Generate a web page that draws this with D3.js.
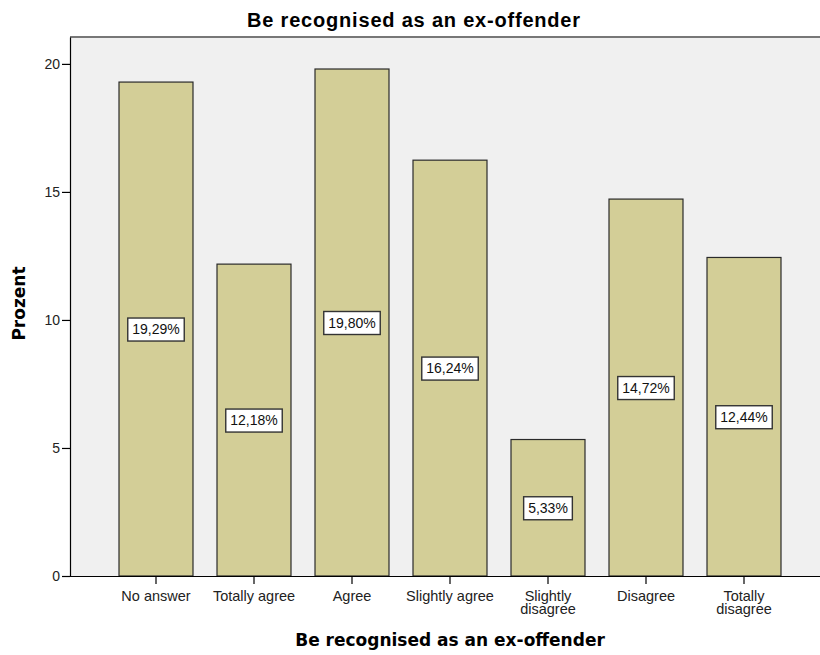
<!DOCTYPE html>
<html><head><meta charset="utf-8">
<script src="https://cdn.jsdelivr.net/npm/d3@7"></script>
<style>body{margin:0;background:#fff}svg{display:block}</style>
</head><body>
<svg id="c" width="820" height="655"></svg>
<script>
const categories = ["No answer","Totally agree","Agree","Slightly agree","Slightly disagree","Disagree","Totally disagree"];
const tickLines = [["No answer"],["Totally agree"],["Agree"],["Slightly agree"],["Slightly","disagree"],["Disagree"],["Totally","disagree"]];
const values = [19.29, 12.18, 19.80, 16.24, 5.33, 14.72, 12.44];
const labels = ["19,29%","12,18%","19,80%","16,24%","5,33%","14,72%","12,44%"];
const yTicks = [0,5,10,15,20];

const svg = d3.select("#c");
const L = 70, T = 37, B = 576, R = 830;
const x = d3.scaleBand().domain(categories).range([107, 793]).paddingInner(0.245).paddingOuter(0.1225);
const y = d3.scaleLinear().domain([0, 21.05]).range([B, T]);
const font = "'Liberation Sans', Arial, sans-serif";

svg.append("rect").attr("x", L).attr("y", T).attr("width", R - L).attr("height", B - T).attr("fill", "#f0f0f0");

svg.append("g").selectAll("rect").data(values).join("rect")
  .attr("x", (d,i) => x(categories[i]))
  .attr("y", d => y(d))
  .attr("width", x.bandwidth())
  .attr("height", d => B - y(d))
  .attr("fill", "#d3ce97").attr("stroke", "#2a2a2a").attr("stroke-width", 1.2);

// frame
svg.append("line").attr("x1", L).attr("x2", 820).attr("y1", T).attr("y2", T).attr("stroke", "#777").attr("stroke-width", 2);

// y axis
const ya = svg.append("g").attr("transform", `translate(${L},0)`)
  .call(d3.axisLeft(y).tickValues(yTicks).tickSize(8).tickSizeOuter(0).tickFormat(d3.format("d")));
ya.select(".domain").attr("stroke", "#000").attr("stroke-width", 1.2);
ya.selectAll(".tick line").attr("stroke", "#000").attr("stroke-width", 1.2);
ya.selectAll("text").attr("font-family", font).attr("font-size", 14).attr("fill", "#222").attr("x", -10);

// x axis
const xa = svg.append("g").attr("transform", `translate(0,${B})`)
  .call(d3.axisBottom(x).tickSize(8).tickSizeOuter(0).tickFormat(""));
xa.select(".domain").attr("d", `M${L},0.5H820`).attr("stroke", "#000").attr("stroke-width", 1.2);
xa.selectAll(".tick line").attr("stroke", "#000").attr("stroke-width", 1.2);
xa.selectAll(".tick").each(function(d, i) {
  const t = d3.select(this).append("text").attr("font-family", font).attr("font-size", 14.5)
    .attr("fill", "#222").attr("text-anchor", "middle").attr("y", 25);
  tickLines[i].forEach((s, k) => t.append("tspan").attr("x", 0).attr("dy", k ? 13 : 0).text(s));
});

// value labels
const lg = svg.append("g").selectAll("g").data(values).join("g")
  .attr("transform", (d,i) => `translate(${x(categories[i]) + x.bandwidth()/2},${y(d/2)})`);
lg.each(function(d, i) {
  const g = d3.select(this);
  const t = g.append("text").attr("font-family", font).attr("font-size", 14).attr("fill", "#111")
    .attr("text-anchor", "middle").attr("dy", "0.36em").text(labels[i]);
  const w = t.node().getComputedTextLength() + 9;
  g.insert("rect", "text").attr("x", -w/2).attr("y", -11).attr("width", w).attr("height", 23)
    .attr("fill", "#fff").attr("stroke", "#333").attr("stroke-width", 1.4);
});

// titles
svg.append("text").attr("x", 414).attr("y", 27).attr("text-anchor", "middle")
  .attr("font-family", font).attr("font-weight", "bold").attr("font-size", 20).attr("letter-spacing", 0.8).attr("fill", "#000")
  .text("Be recognised as an ex-offender");
svg.append("text").attr("x", 450).attr("y", 646).attr("text-anchor", "middle")
  .attr("font-family", "'DejaVu Sans', sans-serif").attr("font-weight", "bold").attr("font-size", 17).attr("fill", "#000")
  .text("Be recognised as an ex-offender");
svg.append("text").attr("transform", `translate(25,${(T+B)/2 - 3}) rotate(-90)`).attr("text-anchor", "middle")
  .attr("font-family", "'DejaVu Sans', sans-serif").attr("font-weight", "bold").attr("font-size", 17).attr("fill", "#000")
  .text("Prozent");
</script>
</body></html>
